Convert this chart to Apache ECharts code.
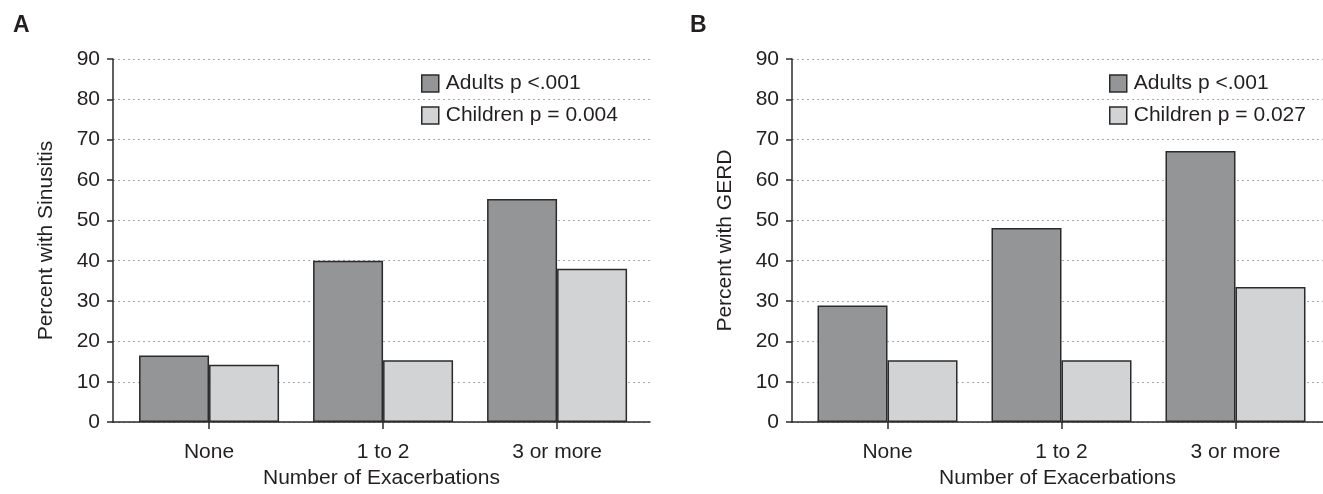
<!DOCTYPE html>
<html>
<head>
<meta charset="utf-8">
<script src="https://cdn.jsdelivr.net/npm/echarts@6/dist/echarts.min.js"></script>
<style>
html,body{margin:0;padding:0;background:#fff;}
#chart{width:1323px;height:494px;}
</style>
</head>
<body>
<div id="chart"></div>
<script>
// ---- data ----
const categories = ['None', '1 to 2', '3 or more'];
const yTicks = [0, 10, 20, 30, 40, 50, 60, 70, 80, 90];
const sinusitisAdults = [16.5, 40.0, 55.3];
const sinusitisChildren = [14.2, 15.3, 38.0];
const gerdAdults = [28.9, 48.1, 67.2];
const gerdChildren = [15.3, 15.3, 33.5];
const legendA = ['Adults p <.001', 'Children p = 0.004'];
const legendB = ['Adults p <.001', 'Children p = 0.027'];
const yTitleA = 'Percent with Sinusitis';
const yTitleB = 'Percent with GERD';
const xTitle = 'Number of Exacerbations';

const FONT = "'Liberation Sans', Arial, Helvetica, sans-serif";
const FS = 21;
const TXT = '#231f20';
const ADULT = '#949597';
const CHILD = '#d2d3d5';
const EDGE = '#2b2b2b';
const catIdx = categories.map((c, i) => i);

function toPts(vals) { return vals.map((v, i) => [i, v]); }

function xAxisFor(gi, min, max) {
  return {
    gridIndex: gi, type: 'value', min: min, max: max,
    name: xTitle, nameLocation: 'middle', nameGap: 45,
    nameTextStyle: {fontFamily: FONT, fontSize: FS, color: TXT},
    axisLine: {show: true, onZero: false, lineStyle: {color: EDGE, width: 1.5}},
    axisTick: {show: true, customValues: catIdx, length: 7, lineStyle: {color: EDGE, width: 1.5}},
    axisLabel: {customValues: catIdx, margin: 20, fontFamily: FONT, fontSize: FS, color: TXT,
      formatter: v => categories[Math.round(v)]},
    splitLine: {show: false}
  };
}
function yAxisFor(gi, title) {
  return {
    gridIndex: gi, type: 'value', min: yTicks[0], max: yTicks[yTicks.length - 1], interval: 10,
    name: title, nameLocation: 'middle', nameGap: 56,
    nameTextStyle: {fontFamily: FONT, fontSize: FS, color: TXT},
    axisLine: {show: true, onZero: false, lineStyle: {color: EDGE, width: 1.5}},
    axisTick: {show: true, length: 6, lineStyle: {color: EDGE, width: 1.5}},
    axisLabel: {margin: 13, fontFamily: FONT, fontSize: FS, color: TXT},
    splitLine: {show: true, lineStyle: {color: '#a8a8a8', width: 1, type: [2, 3]}}
  };
}
function barSeries(name, xi, data, color) {
  return {
    type: 'bar', name: name, xAxisIndex: xi, yAxisIndex: xi, data: toPts(data),
    barWidth: 70, barGap: '0%',
    itemStyle: {color: color, borderColor: EDGE, borderWidth: 1.5},
    emphasis: {disabled: true}, animation: false
  };
}
function legendFor(names, left) {
  return {
    data: names, orient: 'vertical', left: left, top: 68,
    itemWidth: 17, itemHeight: 17, itemGap: 11, icon: 'rect',
    itemStyle: {borderColor: EDGE, borderWidth: 1.5},
    textStyle: {fontFamily: FONT, fontSize: FS, color: TXT, padding: [0, 0, 0, 2]},
    selectedMode: false
  };
}

const chart = echarts.init(document.getElementById('chart'), null, {renderer: 'canvas'});
chart.setOption({
  animation: false,
  backgroundColor: '#fff',
  title: [
    {text: 'A', left: 8, top: 9, textStyle: {fontFamily: FONT, fontSize: 23, fontWeight: 'bold', color: TXT}},
    {text: 'B', left: 685, top: 9, textStyle: {fontFamily: FONT, fontSize: 23, fontWeight: 'bold', color: TXT}}
  ],
  legend: [legendFor(legendA, 416), legendFor(legendB, 1104)],
  grid: [
    {left: 113, top: 59, width: 537, height: 370},
    {left: 792, top: 59, width: 531, height: 370}
  ],
  xAxis: [xAxisFor(0, -0.552, 2.534), xAxisFor(1, -0.549, 2.503)],
  yAxis: [yAxisFor(0, yTitleA), yAxisFor(1, yTitleB)],
  series: [
    barSeries(legendA[0], 0, sinusitisAdults, ADULT),
    barSeries(legendA[1], 0, sinusitisChildren, CHILD),
    barSeries(legendB[0], 1, gerdAdults, ADULT),
    barSeries(legendB[1], 1, gerdChildren, CHILD)
  ]
});
</script>
</body>
</html>
